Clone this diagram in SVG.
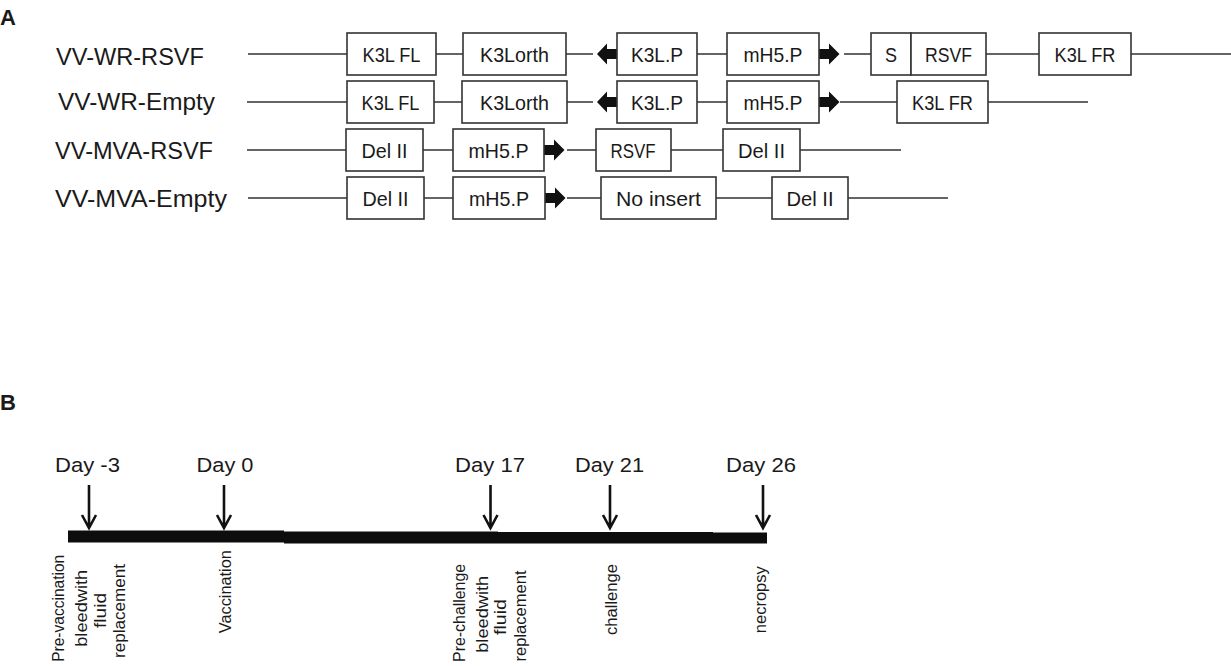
<svg xmlns="http://www.w3.org/2000/svg" xmlns:xlink="http://www.w3.org/1999/xlink" width="1231" height="666" viewBox="0 0 1231 666">
<style>
text{font-family:"Liberation Sans",Arial,sans-serif;fill:#1a1a1a}
.panel{font-size:22px;font-weight:bold}
.row{font-size:23.5px}
.bt{font-size:21px;text-anchor:middle}
.day{font-size:20.5px;text-anchor:middle}
.rot{font-size:16.5px;text-anchor:middle}
.box{fill:#fff;stroke:#333;stroke-width:1.6}
.ln{stroke:#333;stroke-width:1.6;fill:none}
.prom{fill:#111}
.tick{stroke:#111;stroke-width:2.6;fill:none}
.bar{fill:#0d0d0d}
</style>
<defs>
<path id="arR" d="M0,-5 H10 V-10.5 L20.5,0 L10,10.5 V5 H0 Z"/>
<path id="arL" d="M0,-5 H-10 V-10.5 L-20,0 L-10,10.5 V5 H0 Z"/>
<path id="dn" d="M0,0 V43 M-7,30 L0,43 L7,30"/>
</defs>
<rect width="1231" height="666" fill="#fff"/>
<text class="panel" x="0" y="25">A</text>
<text class="panel" x="0" y="410">B</text>

<!-- row labels -->
<g id="labels">
<text class="row" x="56" y="65" textLength="148" lengthAdjust="spacingAndGlyphs">VV-WR-RSVF</text>
<text class="row" x="58" y="110" textLength="157" lengthAdjust="spacingAndGlyphs">VV-WR-Empty</text>
<text class="row" x="55" y="159" textLength="158" lengthAdjust="spacingAndGlyphs">VV-MVA-RSVF</text>
<text class="row" x="55" y="207" textLength="172" lengthAdjust="spacingAndGlyphs">VV-MVA-Empty</text>
</g>

<!-- connectors -->
<g id="connectors" class="ln">
<path d="M248,54 H347 M436,54 H463 M566,54 H593 M697,54 H727 M844,54 H871 M986,54 H1039 M1131,54 H1231"/>
<path d="M247,102 H347 M434,102 H462 M567,102 H593 M697,102 H727 M840,102 H897 M988,102 H1088"/>
<path d="M247,150 H346 M423,150 H453 M567,150 H596 M671,150 H723 M800,150 H901"/>
<path d="M248,198 H347 M424,198 H453 M567,198 H601 M716,198 H772 M848,198 H948"/>
</g>

<!-- promoter arrows -->
<g id="promoters" class="prom">
<use xlink:href="#arL" x="617" y="54"/>
<use xlink:href="#arR" x="819" y="54"/>
<use xlink:href="#arL" x="617" y="102"/>
<use xlink:href="#arR" x="819" y="102"/>
<use xlink:href="#arR" x="544" y="150"/>
<use xlink:href="#arR" x="545" y="198"/>
</g>

<!-- row 1 -->
<g id="r1-k3lfl"><rect class="box" x="347" y="33" width="89" height="42"/><text class="bt" x="391.5" y="62" textLength="58" lengthAdjust="spacingAndGlyphs">K3L FL</text></g>
<g id="r1-k3lorth"><rect class="box" x="463" y="33" width="103" height="42"/><text class="bt" x="514.5" y="62" textLength="69" lengthAdjust="spacingAndGlyphs">K3Lorth</text></g>
<g id="r1-k3lp"><rect class="box" x="617" y="33" width="80" height="42"/><text class="bt" x="657" y="62" textLength="52" lengthAdjust="spacingAndGlyphs">K3L.P</text></g>
<g id="r1-mh5p"><rect class="box" x="727" y="33" width="92" height="42"/><text class="bt" x="773" y="62" textLength="59" lengthAdjust="spacingAndGlyphs">mH5.P</text></g>
<g id="r1-s"><rect class="box" x="871" y="33" width="40" height="42"/><text class="bt" x="891" y="62" textLength="12" lengthAdjust="spacingAndGlyphs">S</text></g>
<g id="r1-rsvf"><rect class="box" x="911" y="33" width="75" height="42"/><text class="bt" x="948.5" y="62" textLength="47" lengthAdjust="spacingAndGlyphs">RSVF</text></g>
<g id="r1-k3lfr"><rect class="box" x="1039" y="33" width="92" height="42"/><text class="bt" x="1085" y="62" textLength="61" lengthAdjust="spacingAndGlyphs">K3L FR</text></g>

<!-- row 2 -->
<g id="r2-k3lfl"><rect class="box" x="347" y="81" width="87" height="42"/><text class="bt" x="390.5" y="110" textLength="58" lengthAdjust="spacingAndGlyphs">K3L FL</text></g>
<g id="r2-k3lorth"><rect class="box" x="462" y="81" width="105" height="42"/><text class="bt" x="514.5" y="110" textLength="69" lengthAdjust="spacingAndGlyphs">K3Lorth</text></g>
<g id="r2-k3lp"><rect class="box" x="617" y="81" width="80" height="42"/><text class="bt" x="657" y="110" textLength="52" lengthAdjust="spacingAndGlyphs">K3L.P</text></g>
<g id="r2-mh5p"><rect class="box" x="727" y="81" width="92" height="42"/><text class="bt" x="773" y="110" textLength="59" lengthAdjust="spacingAndGlyphs">mH5.P</text></g>
<g id="r2-k3lfr"><rect class="box" x="897" y="81" width="91" height="42"/><text class="bt" x="942.5" y="110" textLength="61" lengthAdjust="spacingAndGlyphs">K3L FR</text></g>

<!-- row 3 -->
<g id="r3-del1"><rect class="box" x="346" y="129" width="77" height="42"/><text class="bt" x="384.5" y="158" textLength="46" lengthAdjust="spacingAndGlyphs">Del II</text></g>
<g id="r3-mh5p"><rect class="box" x="453" y="129" width="91" height="42"/><text class="bt" x="498.5" y="158" textLength="60" lengthAdjust="spacingAndGlyphs">mH5.P</text></g>
<g id="r3-rsvf"><rect class="box" x="596" y="129" width="75" height="42"/><text class="bt" x="633" y="158" textLength="45" lengthAdjust="spacingAndGlyphs">RSVF</text></g>
<g id="r3-del2"><rect class="box" x="723" y="129" width="77" height="42"/><text class="bt" x="761.5" y="158" textLength="47" lengthAdjust="spacingAndGlyphs">Del II</text></g>

<!-- row 4 -->
<g id="r4-del1"><rect class="box" x="347" y="177" width="77" height="42"/><text class="bt" x="385.5" y="206" textLength="46" lengthAdjust="spacingAndGlyphs">Del II</text></g>
<g id="r4-mh5p"><rect class="box" x="453" y="177" width="92" height="42"/><text class="bt" x="499" y="206" textLength="60" lengthAdjust="spacingAndGlyphs">mH5.P</text></g>
<g id="r4-noinsert"><rect class="box" x="601" y="177" width="115" height="42"/><text class="bt" x="658.5" y="206" textLength="85" lengthAdjust="spacingAndGlyphs">No insert</text></g>
<g id="r4-del2"><rect class="box" x="772" y="177" width="76" height="42"/><text class="bt" x="810" y="206" textLength="47" lengthAdjust="spacingAndGlyphs">Del II</text></g>

<!-- panel B timeline -->
<g id="timeline">
<rect class="bar" x="68" y="530.5" width="216" height="12"/>
<rect class="bar" x="284" y="531.5" width="214" height="12"/>
<rect class="bar" x="498" y="532" width="215" height="11.5"/>
<rect class="bar" x="713" y="532.5" width="54" height="11"/>
</g>
<g id="time-arrows" class="tick">
<use xlink:href="#dn" x="89" y="485"/>
<use xlink:href="#dn" x="224" y="485"/>
<use xlink:href="#dn" x="490.5" y="485"/>
<use xlink:href="#dn" x="610" y="485"/>
<use xlink:href="#dn" x="763" y="485"/>
</g>
<g id="day-m3"><text class="day" x="87.5" y="472" textLength="65" lengthAdjust="spacingAndGlyphs">Day -3</text>
<text class="rot" transform="translate(64,608.3) rotate(-90)" textLength="107" lengthAdjust="spacingAndGlyphs">Pre-vaccination</text>
<text class="rot" transform="translate(86.5,608.3) rotate(-90)" textLength="77" lengthAdjust="spacingAndGlyphs">bleedwith</text>
<text class="rot" transform="translate(106,610.5) rotate(-90)" textLength="35" lengthAdjust="spacingAndGlyphs">fluid</text>
<text class="rot" transform="translate(124.5,611) rotate(-90)" textLength="94" lengthAdjust="spacingAndGlyphs">replacement</text>
</g>
<g id="day-0"><text class="day" x="225" y="472" textLength="57" lengthAdjust="spacingAndGlyphs">Day 0</text>
<text class="rot" transform="translate(230.5,591.7) rotate(-90)" textLength="83" lengthAdjust="spacingAndGlyphs">Vaccination</text>
</g>
<g id="day-17"><text class="day" x="490" y="472" textLength="70" lengthAdjust="spacingAndGlyphs">Day 17</text>
<text class="rot" transform="translate(465,612.9) rotate(-90)" textLength="98" lengthAdjust="spacingAndGlyphs">Pre-challenge</text>
<text class="rot" transform="translate(488,614.3) rotate(-90)" textLength="77" lengthAdjust="spacingAndGlyphs">bleedwith</text>
<text class="rot" transform="translate(506,617) rotate(-90)" textLength="36" lengthAdjust="spacingAndGlyphs">fluid</text>
<text class="rot" transform="translate(526,616) rotate(-90)" textLength="91" lengthAdjust="spacingAndGlyphs">replacement</text>
</g>
<g id="day-21"><text class="day" x="609.5" y="472" textLength="69" lengthAdjust="spacingAndGlyphs">Day 21</text>
<text class="rot" transform="translate(617,599.5) rotate(-90)" textLength="71" lengthAdjust="spacingAndGlyphs">challenge</text>
</g>
<g id="day-26"><text class="day" x="761" y="472" textLength="70" lengthAdjust="spacingAndGlyphs">Day 26</text>
<text class="rot" transform="translate(766,599.7) rotate(-90)" textLength="67" lengthAdjust="spacingAndGlyphs">necropsy</text>
</g>
</svg>
